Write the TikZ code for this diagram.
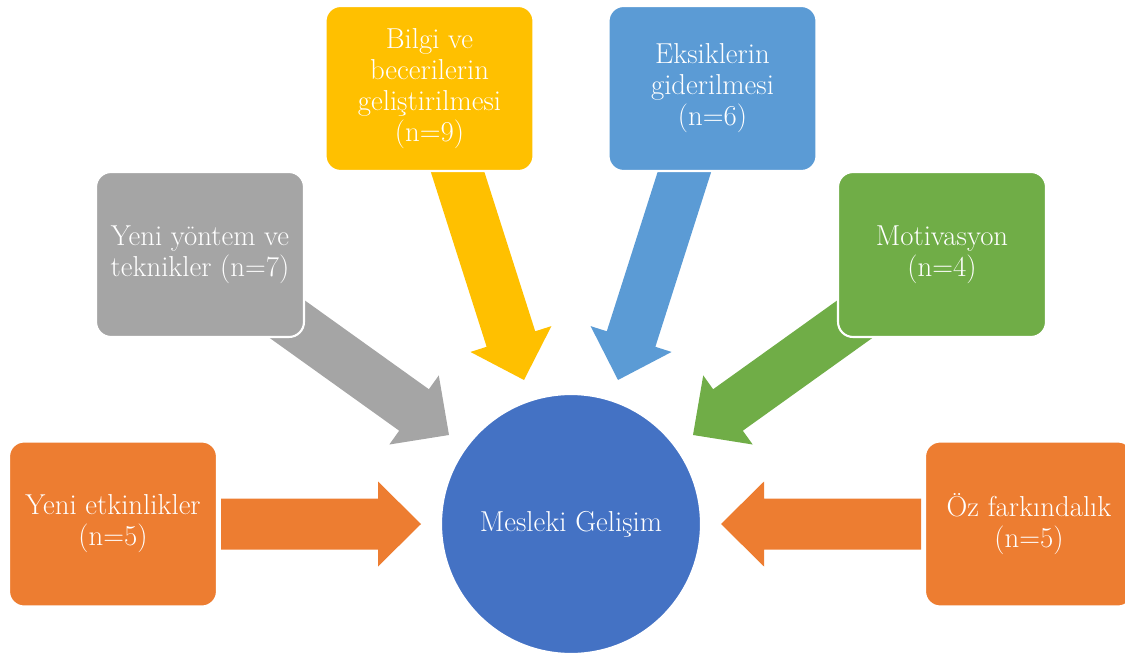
\documentclass[tikz,border=0pt]{standalone}
\usepackage{fontspec}
\definecolor{orng}{HTML}{ED7D31}
\definecolor{gry}{HTML}{A5A5A5}
\definecolor{ylw}{HTML}{FFC000}
\definecolor{lblue}{HTML}{5B9BD5}
\definecolor{grn}{HTML}{70AD47}
\definecolor{dblue}{HTML}{4472C4}
\begin{document}
\begin{tikzpicture}[x=0.02cm,y=-0.02cm,
  txt/.style={text=white, align=center, font=\fontsize{16.4pt}{17.6pt}\selectfont},
  box/.style={txt, rectangle, rounded corners=0.3cm, draw=white, line width=1.2pt,
    minimum width=4.16cm, minimum height=3.3cm, inner sep=2pt},
  pics/barrow/.style 2 args={code={
    \fill[#2] (0,0) -- (-43,42.5) -- (-43,25.5) -- (-#1,25.5) -- (-#1,-25.5)
      -- (-43,-25.5) -- (-43,-42.5) -- cycle;}}]
\useasboundingbox (0,0) rectangle (1125,658);
\clip (0,0) rectangle (1125,658);
% arrow tips
\coordinate (tL) at (421,524);
\coordinate (tR) at (721,524);
\coordinate (tG) at (449,435);
\coordinate (tN) at (693,435);
\coordinate (tY) at (524,380);
\coordinate (tB) at (618,380);
% block arrows
\pic[rotate=0] at (tL) {barrow={200}{orng}};
\pic[rotate=180] at (tR) {barrow={200}{orng}};
\pic[rotate=-35.6] at (tG) {barrow={215}{gry}};
\pic[rotate=-144.4] at (tN) {barrow={215}{grn}};
\pic[rotate=-72.3] at (tY) {barrow={235}{ylw}};
\pic[rotate=-107.7] at (tB) {barrow={235}{lblue}};
% boxes
\node[box, fill=orng] (etk) at (113,524) {Yeni etkinlikler\\(n=5)};
\node[box, fill=gry] (yon) at (200,254.5) {Yeni yöntem ve\\teknikler (n=7)};
\node[box, fill=ylw] (bil) at (429.5,88.5) {Bilgi ve\\becerilerin\\geliştirilmesi\\(n=9)};
\node[box, fill=lblue] (eks) at (712.5,88.5) {Eksiklerin\\giderilmesi\\(n=6)};
\node[box, fill=grn] (mot) at (942,254.5) {Motivasyon\\(n=4)};
\node[box, fill=orng] (oz) at (1029,524) {Öz farkındalık\\(n=5)};
\node[txt, circle, fill=dblue, draw=white, line width=1.2pt, minimum size=5.2cm] (mg) at (571,524) {Mesleki Gelişim};
\end{tikzpicture}
\end{document}
